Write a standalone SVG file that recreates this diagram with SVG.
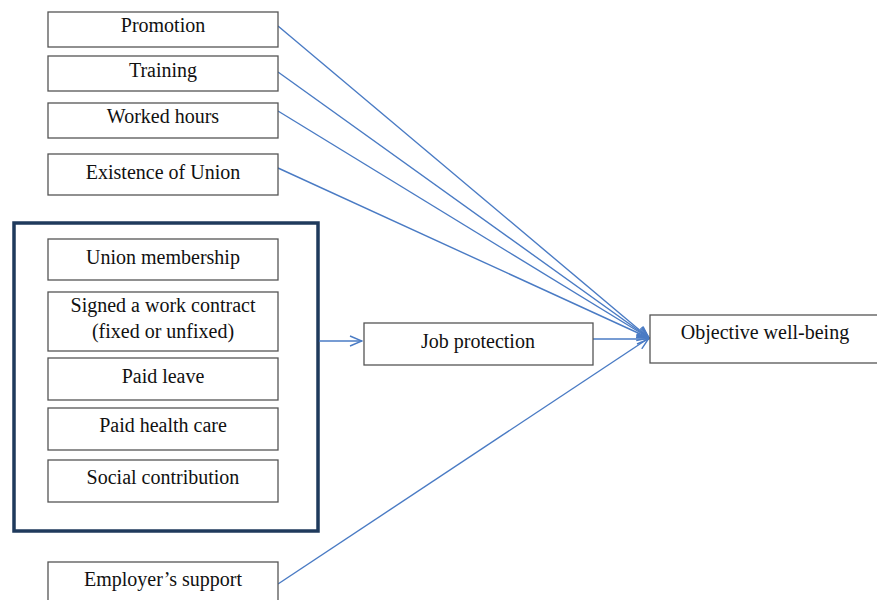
<svg xmlns="http://www.w3.org/2000/svg" width="877" height="600" viewBox="0 0 877 600">
<style>
.box{fill:#fff;stroke:#555;stroke-width:1.3}
.frame{fill:none;stroke:#1f3a5c;stroke-width:3.5}
.t{font-family:"Liberation Serif",serif;font-size:20px;fill:#111;text-anchor:middle}
.c{fill:none;stroke:#4a7bc4;stroke-width:1.4}
</style>
<defs>
<marker id="ah" markerUnits="userSpaceOnUse" viewBox="0 0 14 12" markerWidth="14" markerHeight="12" refX="13" refY="6" orient="auto">
<path d="M1,1 L13,6 L1,11" fill="none" stroke="#4a7bc4" stroke-width="1.4"/>
</marker>
</defs>
<rect id="frame" class="frame" x="14" y="223" width="304" height="308"/>
<g id="connectors">
<line class="c" x1="278" y1="26" x2="649" y2="338" marker-end="url(#ah)"/>
<line class="c" x1="278" y1="72" x2="649" y2="338" marker-end="url(#ah)"/>
<line class="c" x1="278" y1="111" x2="649" y2="338" marker-end="url(#ah)"/>
<line class="c" x1="278" y1="168" x2="649" y2="338" marker-end="url(#ah)"/>
<line class="c" x1="278" y1="584" x2="649" y2="338" marker-end="url(#ah)"/>
<line class="c" x1="319" y1="341" x2="362" y2="341" marker-end="url(#ah)"/>
<line class="c" x1="593" y1="339" x2="649" y2="339" marker-end="url(#ah)"/>
</g>
<g id="promotion"><rect class="box" x="48" y="12" width="230" height="35"/><text class="t" x="163" y="32">Promotion</text></g>
<g id="training"><rect class="box" x="48" y="56" width="230" height="35"/><text class="t" x="163" y="77">Training</text></g>
<g id="worked-hours"><rect class="box" x="48" y="103" width="230" height="35"/><text class="t" x="163" y="123">Worked hours</text></g>
<g id="existence-union"><rect class="box" x="48" y="154" width="230" height="41"/><text class="t" x="163" y="179">Existence of Union</text></g>
<g id="union-membership"><rect class="box" x="48" y="239" width="230" height="41"/><text class="t" x="163" y="264">Union membership</text></g>
<g id="work-contract"><rect class="box" x="48" y="292" width="230" height="59"/><text class="t" x="163" y="312">Signed a work contract</text><text class="t" x="163" y="338">(fixed or unfixed)</text></g>
<g id="paid-leave"><rect class="box" x="48" y="358" width="230" height="42"/><text class="t" x="163" y="383">Paid leave</text></g>
<g id="paid-health-care"><rect class="box" x="48" y="408" width="230" height="42"/><text class="t" x="163" y="432">Paid health care</text></g>
<g id="social-contribution"><rect class="box" x="48" y="460" width="230" height="42"/><text class="t" x="163" y="484">Social contribution</text></g>
<g id="job-protection"><rect class="box" x="364" y="323" width="229" height="42"/><text class="t" x="478" y="348">Job protection</text></g>
<g id="objective-well-being"><rect class="box" x="650" y="315" width="230" height="48"/><text class="t" x="765" y="339">Objective well-being</text></g>
<g id="employers-support"><rect class="box" x="48" y="562" width="230" height="45"/><text class="t" x="163" y="586">Employer’s support</text></g>
</svg>
